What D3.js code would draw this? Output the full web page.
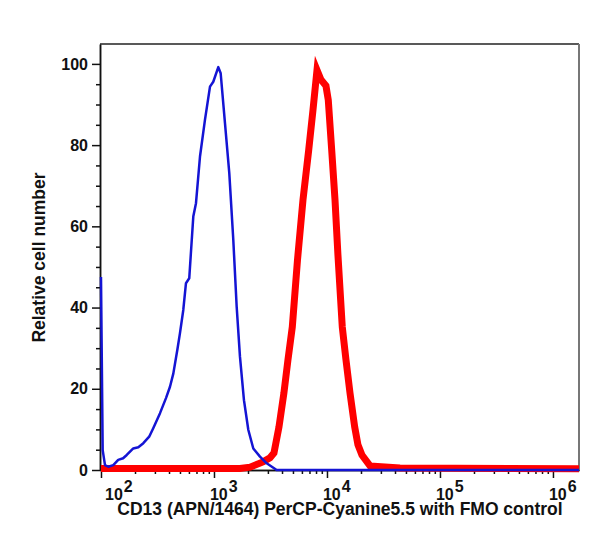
<!DOCTYPE html>
<html>
<head>
<meta charset="utf-8">
<script src="https://d3js.org/d3.v7.min.js"></script>
<style>
  body { margin: 0; background: #fff; }
  text { font-family: "Liberation Sans", Arial, sans-serif; font-weight: bold; fill: #111; }
</style>
</head>
<body>
<script>
// FMO control (blue) histogram
var blueIntensity = [100, 103.5, 108.5, 116, 128.5, 142, 157, 169, 193, 214, 237, 267, 290, 333, 376, 408, 437, 474, 500, 535, 565, 604, 656, 693, 752, 832, 922, 986, 1092, 1146, 1251, 1366, 1482, 1588, 1698, 1842, 2012, 2228, 2553, 2926, 3588, 1700000];
var blueCount = [47.5, 4.9, 1.2, 0.8, 1.2, 2.5, 2.9, 3.7, 5.3, 5.6, 6.6, 8.2, 10.3, 14.0, 17.7, 20.5, 23.8, 29.6, 33.7, 39.4, 46.0, 47.2, 62.4, 65.7, 77.2, 86.2, 94.4, 95.6, 99.2, 97.7, 85.4, 73.1, 56.7, 40.2, 27.9, 17.2, 9.9, 5.3, 3.3, 1.65, 0, 0];

// CD13 stained (red) histogram
var redIntensity = [100, 1698, 2084, 2716, 3133, 3396, 3760, 4160, 4515, 4932, 5483, 6133, 6892, 7521, 8161, 8851, 9795, 10270, 11010, 11780, 12500, 13660, 14730, 15980, 17590, 18800, 20400, 24040, 44260, 1700000];
var redCount = [0.35, 0.35, 0.7, 2.0, 3.0, 4.2, 10.6, 19.0, 27.1, 35.2, 51.7, 66.5, 78.8, 88.7, 98.5, 96.1, 94.6, 91.1, 78.8, 66.5, 53.0, 35.2, 27.1, 19.0, 10.6, 6.2, 3.7, 1.0, 0.5, 0.3];

var yTicks = [0, 20, 40, 60, 80, 100];
var xTickExps = [2, 3, 4, 5, 6];
var xTitle = "CD13 (APN/1464) PerCP-Cyanine5.5 with FMO control";
var yTitle = "Relative cell number";

// Set the dimensions and margins of the graph
var margin = {top: 44, right: 21, bottom: 71, left: 100},
    width = 600 - margin.left - margin.right,
    height = 541 - margin.top - margin.bottom;

var svg = d3.select("body")
  .append("svg")
    .attr("width", width + margin.left + margin.right)
    .attr("height", height + margin.top + margin.bottom)
  .append("g")
    .attr("transform", "translate(" + margin.left + "," + margin.top + ")");

var x = d3.scaleLog()
  .domain([98, 1.7e6])
  .range([0, width]);

var y = d3.scaleLinear()
  .domain([0, 104.9])
  .range([height, 0]);

// minor ticks for x (2..9 in each decade)
var xMinor = [];
for (var e = 1; e <= 6; e++) {
  for (var k = 2; k <= 9; k++) {
    var v = k * Math.pow(10, e);
    if (v > x.domain()[0] && v < x.domain()[1]) xMinor.push(v);
  }
}
var xMajor = xTickExps.map(function(e) { return Math.pow(10, e); });

var yMinor = d3.range(5, 105, 5).filter(function(d) { return d % 20 !== 0; });

// X axis
svg.append("g")
  .attr("transform", "translate(0," + height + ")")
  .call(d3.axisBottom(x).tickValues(xMinor).tickSize(4).tickSizeOuter(0).tickFormat(""));
svg.append("g")
  .attr("transform", "translate(0," + height + ")")
  .call(d3.axisBottom(x).tickValues(xMajor).tickSize(8).tickSizeOuter(0).tickFormat(""));

// Y axis
svg.append("g")
  .call(d3.axisLeft(y).tickValues(yMinor).tickSize(4).tickSizeOuter(0).tickFormat(""));
var yAxis = svg.append("g")
  .call(d3.axisLeft(y).tickValues(yTicks).tickSize(8).tickSizeOuter(0).tickPadding(4));
yAxis.selectAll("text")
  .style("font-size", "16px")
  .style("font-family", "'Liberation Sans', Arial, sans-serif")
  .style("font-weight", "bold")
  .attr("fill", "#111");

svg.selectAll(".domain, .tick line")
  .attr("stroke", "#111")
  .attr("stroke-width", 1.5);

// frame top and right
svg.append("line")
  .attr("x1", 0).attr("x2", width)
  .attr("y1", 0).attr("y2", 0)
  .attr("stroke", "#222")
  .attr("stroke-width", 1.5);
svg.append("line")
  .attr("x1", width).attr("x2", width)
  .attr("y1", 0).attr("y2", height)
  .attr("stroke", "#777")
  .attr("stroke-width", 2);

// x tick labels with superscripts
var xl = svg.append("g").selectAll("text")
  .data(xTickExps)
  .enter()
  .append("text")
    .attr("x", function(d) { return Math.max(x(Math.pow(10, d)) - 4, 5); })
    .attr("y", height + 30)
    .style("font-size", "16px");
xl.append("tspan").text("10");
xl.append("tspan")
  .attr("dx", 1)
  .attr("dy", -8)
  .text(function(d) { return d; });

// axis titles
svg.append("text")
  .attr("text-anchor", "middle")
  .attr("x", 240)
  .attr("y", height + 45)
  .style("font-size", "17.5px")
  .text(xTitle);

svg.append("text")
  .attr("text-anchor", "middle")
  .attr("transform", "rotate(-90)")
  .attr("x", -213.5)
  .attr("y", -55)
  .style("font-size", "17.5px")
  .text(yTitle);

// Histogram lines
var line = d3.line()
  .x(function(d) { return x(d[0]); })
  .y(function(d) { return y(d[1]); });

var red = d3.zip(redIntensity, redCount);
var blue = d3.zip(blueIntensity, blueCount);

svg.append("path")
  .datum(red)
  .attr("d", line)
  .attr("fill", "none")
  .attr("stroke", "#ff0000")
  .attr("stroke-width", 7)
  .attr("stroke-linejoin", "miter")
  .attr("stroke-miterlimit", 10);

svg.append("path")
  .datum(blue)
  .attr("d", line)
  .attr("fill", "none")
  .attr("stroke", "#1414d4")
  .attr("stroke-width", 2.5)
  .attr("stroke-linejoin", "round");
</script>
</body>
</html>
